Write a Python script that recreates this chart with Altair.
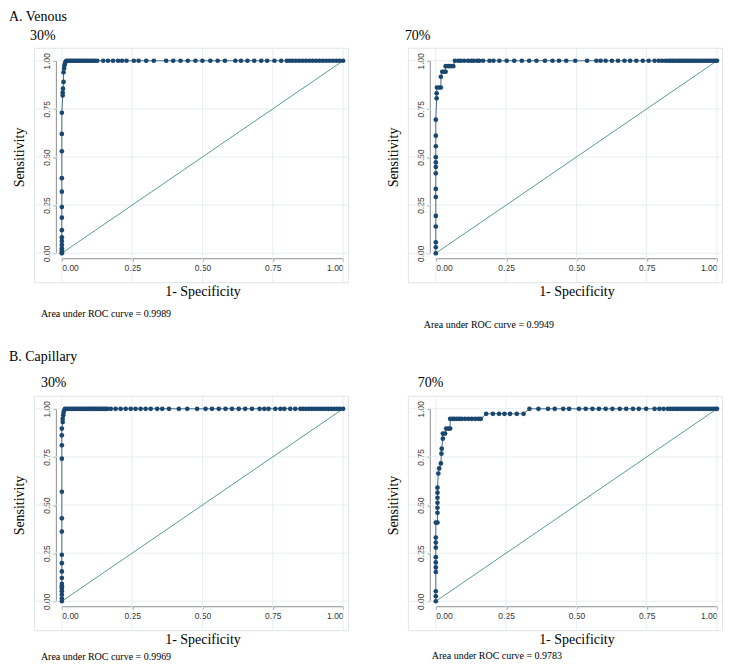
import altair as alt
import pandas as pd

NAVY = "#1a476f"
TEAL = "#5b9c8c"
AXC = "#8f8f8f"
GRID = "#e6eef0"
FRAME = "#dfe5e8"
SERIF = "Liberation Serif"
SANS = "Liberation Sans"

TICKS = [0, 0.25, 0.5, 0.75, 1]
DIAG = [0, 1]

# (1-specificity, sensitivity) on the rising part; plateau at sensitivity 1.0 listed by fpr
A30_rise = [(0, 0), (0, 0.005), (0, 0.014), (0, 0.026), (0, 0.043), (0, 0.064), (0, 0.083), (0, 0.12),
            (0, 0.185), (0, 0.24), (0, 0.32), (0, 0.39), (0, 0.53), (0, 0.62), (0, 0.73),
            (0.003, 0.82), (0.003, 0.835), (0.004, 0.855), (0.006, 0.89), (0.006, 0.94), (0.008, 0.96),
            (0.009, 0.975), (0.011, 0.985), (0.013, 0.995)]
A30_top = [0.016, 0.022, 0.028, 0.034, 0.040, 0.046, 0.052, 0.058, 0.064, 0.070, 0.077, 0.083, 0.090,
           0.097, 0.104, 0.111, 0.118, 0.126, 0.147, 0.164, 0.182, 0.200, 0.214, 0.230, 0.256, 0.273,
           0.300, 0.327, 0.371, 0.396, 0.422, 0.448, 0.475, 0.500, 0.528, 0.554, 0.580, 0.617, 0.637,
           0.660, 0.684, 0.709, 0.730, 0.756, 0.780, 0.800, 0.810, 0.820, 0.832, 0.844, 0.856, 0.868,
           0.880, 0.892, 0.904, 0.916, 0.928, 0.940, 0.952, 0.964, 0.976, 0.988, 1.0]

A70_rise = [(0, 0), (0, 0.031), (0, 0.057), (0, 0.139), (0, 0.194), (0, 0.292), (0, 0.334), (0, 0.415),
            (0, 0.448), (0, 0.472), (0, 0.499), (0, 0.556), (0, 0.611), (0, 0.694), (0.003, 0.805),
            (0.003, 0.831), (0.004, 0.861), (0.012, 0.861), (0.018, 0.861), (0.018, 0.917), (0.023, 0.943),
            (0.030, 0.943), (0.035, 0.943), (0.035, 0.972), (0.045, 0.972), (0.053, 0.972), (0.062, 0.972)]
A70_top = [0.068, 0.080, 0.089, 0.101, 0.115, 0.126, 0.135, 0.147, 0.154, 0.168, 0.191, 0.205, 0.226,
           0.252, 0.279, 0.306, 0.332, 0.358, 0.388, 0.415, 0.438, 0.464, 0.496, 0.538, 0.571, 0.586,
           0.604, 0.626, 0.648, 0.671, 0.691, 0.713, 0.736, 0.757, 0.778, 0.793, 0.805, 0.817, 0.826,
           0.834, 0.842, 0.850, 0.858, 0.866, 0.874, 0.882, 0.890, 0.898, 0.906, 0.914, 0.922, 0.930,
           0.938, 0.946, 0.954, 0.962, 0.970, 0.978, 0.986, 0.994, 1.0]

B30_rise = [(0, 0), (0, 0.014), (0, 0.034), (0, 0.052), (0, 0.066), (0, 0.078), (0, 0.090), (0, 0.121),
            (0, 0.155), (0, 0.198), (0, 0.241), (0, 0.362), (0, 0.431), (0, 0.569), (0, 0.741), (0, 0.810),
            (0, 0.862), (0, 0.897), (0.003, 0.931), (0.003, 0.948), (0.005, 0.966), (0.006, 0.979),
            (0.008, 0.991)]
B30_top = [0.011, 0.017, 0.023, 0.029, 0.035, 0.041, 0.047, 0.053, 0.059, 0.065, 0.071, 0.077, 0.083,
           0.089, 0.095, 0.101, 0.107, 0.113, 0.119, 0.125, 0.131, 0.138, 0.144, 0.150, 0.156, 0.162,
           0.174, 0.191, 0.209, 0.227, 0.245, 0.262, 0.280, 0.298, 0.316, 0.339, 0.357, 0.381, 0.416,
           0.446, 0.481, 0.511, 0.534, 0.558, 0.582, 0.605, 0.629, 0.652, 0.676, 0.703, 0.720, 0.735,
           0.759, 0.777, 0.791, 0.812, 0.830, 0.848, 0.858, 0.868, 0.878, 0.888, 0.898, 0.908, 0.918,
           0.928, 0.938, 0.948, 0.958, 0.968, 0.978, 0.988, 1.0]

B70_rise = [(0, 0), (0, 0.026), (0, 0.052), (0, 0.152), (0, 0.176), (0, 0.202), (0, 0.229), (0, 0.279),
            (0, 0.305), (0, 0.331), (0, 0.409), (0.006, 0.409), (0.006, 0.460), (0.006, 0.486),
            (0.006, 0.512), (0.006, 0.538), (0.006, 0.564), (0.006, 0.590), (0.009, 0.664), (0.012, 0.690),
            (0.018, 0.716), (0.020, 0.767), (0.021, 0.793), (0.025, 0.845), (0.025, 0.871), (0.033, 0.871),
            (0.037, 0.897), (0.045, 0.897), (0.051, 0.897), (0.051, 0.948), (0.059, 0.948), (0.066, 0.948),
            (0.075, 0.948), (0.083, 0.948), (0.092, 0.948), (0.104, 0.948), (0.116, 0.948), (0.128, 0.948),
            (0.140, 0.948), (0.152, 0.948), (0.160, 0.948), (0.179, 0.974), (0.203, 0.974), (0.225, 0.974),
            (0.244, 0.974), (0.264, 0.974), (0.288, 0.974), (0.312, 0.974)]
B70_top = [0.333, 0.365, 0.399, 0.423, 0.453, 0.474, 0.509, 0.533, 0.557, 0.580, 0.604, 0.628, 0.654,
           0.677, 0.701, 0.722, 0.748, 0.778, 0.795, 0.810, 0.825, 0.834, 0.843, 0.852, 0.861, 0.870,
           0.879, 0.888, 0.897, 0.906, 0.915, 0.924, 0.933, 0.942, 0.951, 0.960, 0.969, 0.978, 0.987,
           0.996, 1.0]

group_titles = ["A. Venous", "B. Capillary"]
panel_titles = ["30%", "70%", "30%", "70%"]
auc_values = ["0.9989", "0.9949", "0.9969", "0.9783"]

W, H = 315, 235


def label_text(t, size, px, py):
    return alt.Chart(pd.DataFrame({"t": [t]})).mark_text(
        align="left", baseline="alphabetic", font=SERIF, fontSize=size, color="black").encode(
        x=alt.value(px), y=alt.value(py), text="t:N")


def panel(rise, top, label, auc, tdx, tdy, nx, ny, group=None, gy=0):
    pts = list(rise) + [(f, 1.0) for f in top]
    df = pd.DataFrame({"fpr": [p[0] for p in pts], "tpr": [p[1] for p in pts],
                       "k": list(range(len(pts)))})
    common = dict(values=TICKS, format=".2f", tickSize=3, tickColor=AXC, domainColor=AXC,
                  labelFont=SANS, labelFontSize=8.5, labelColor="#333333", grid=False,
                  titleFont=SERIF, titleFontSize=14, titleFontWeight="normal", titleColor="black")
    x = alt.X("fpr:Q", scale=alt.Scale(domain=[0, 1], range=[28, 310], nice=False, zero=False),
              axis=alt.Axis(title="1- Specificity", offset=-24, labelPadding=2, titlePadding=13, **common))
    y = alt.Y("tpr:Q", scale=alt.Scale(domain=[0, 1], range=[206, 13], nice=False, zero=False),
              axis=alt.Axis(title="Sensitivity", offset=-22, labelAngle=270, labelPadding=1,
                            titlePadding=16, **common))
    gridx = alt.Chart(pd.DataFrame({"fpr": TICKS})).mark_rule(color=GRID, strokeWidth=1).encode(
        x=x, y=alt.value(0), y2=alt.value(H))
    gridy = alt.Chart(pd.DataFrame({"tpr": TICKS})).mark_rule(color=GRID, strokeWidth=1).encode(
        y=y, x=alt.value(0), x2=alt.value(W))
    diag = alt.Chart(pd.DataFrame({"fpr": DIAG, "tpr": DIAG})).mark_line(
        color=TEAL, strokeWidth=1).encode(x=x, y=y)
    curve = alt.Chart(df).mark_line(color=NAVY, strokeWidth=1, opacity=0.8).encode(
        x=x, y=y, order="k:Q")
    dots = alt.Chart(df).mark_circle(color=NAVY, size=22, opacity=1).encode(x=x, y=y)
    layers = [gridx, gridy, diag, curve, dots,
              label_text("Area under ROC curve = " + auc, 10, nx, ny),
              label_text(label, 14, tdx, tdy)]
    if group is not None:
        layers.append(label_text(group, 14, -25, gy))
    return alt.layer(*layers).properties(width=W, height=H)


pA30 = panel(A30_rise, A30_top, panel_titles[0], auc_values[0], -4, -8, 7, 270, group_titles[0], -27)
pA70 = panel(A70_rise, A70_top, panel_titles[1], auc_values[1], -3, -8, 16, 281)
pB30 = panel(B30_rise, B30_top, panel_titles[2], auc_values[2], 7, -9, 7, 265, group_titles[1], -35)
pB70 = panel(B70_rise, B70_top, panel_titles[3], auc_values[3], 10, -9, 24, 264)

chart = alt.concat(pA30, pA70, pB30, pB70, columns=2, spacing={"row": 114, "column": 60},
                   bounds="flush").properties(
    padding=0
).configure_view(stroke=FRAME, strokeWidth=1)

chart.save("out.html", embed_options={"renderer": "svg", "actions": False})
